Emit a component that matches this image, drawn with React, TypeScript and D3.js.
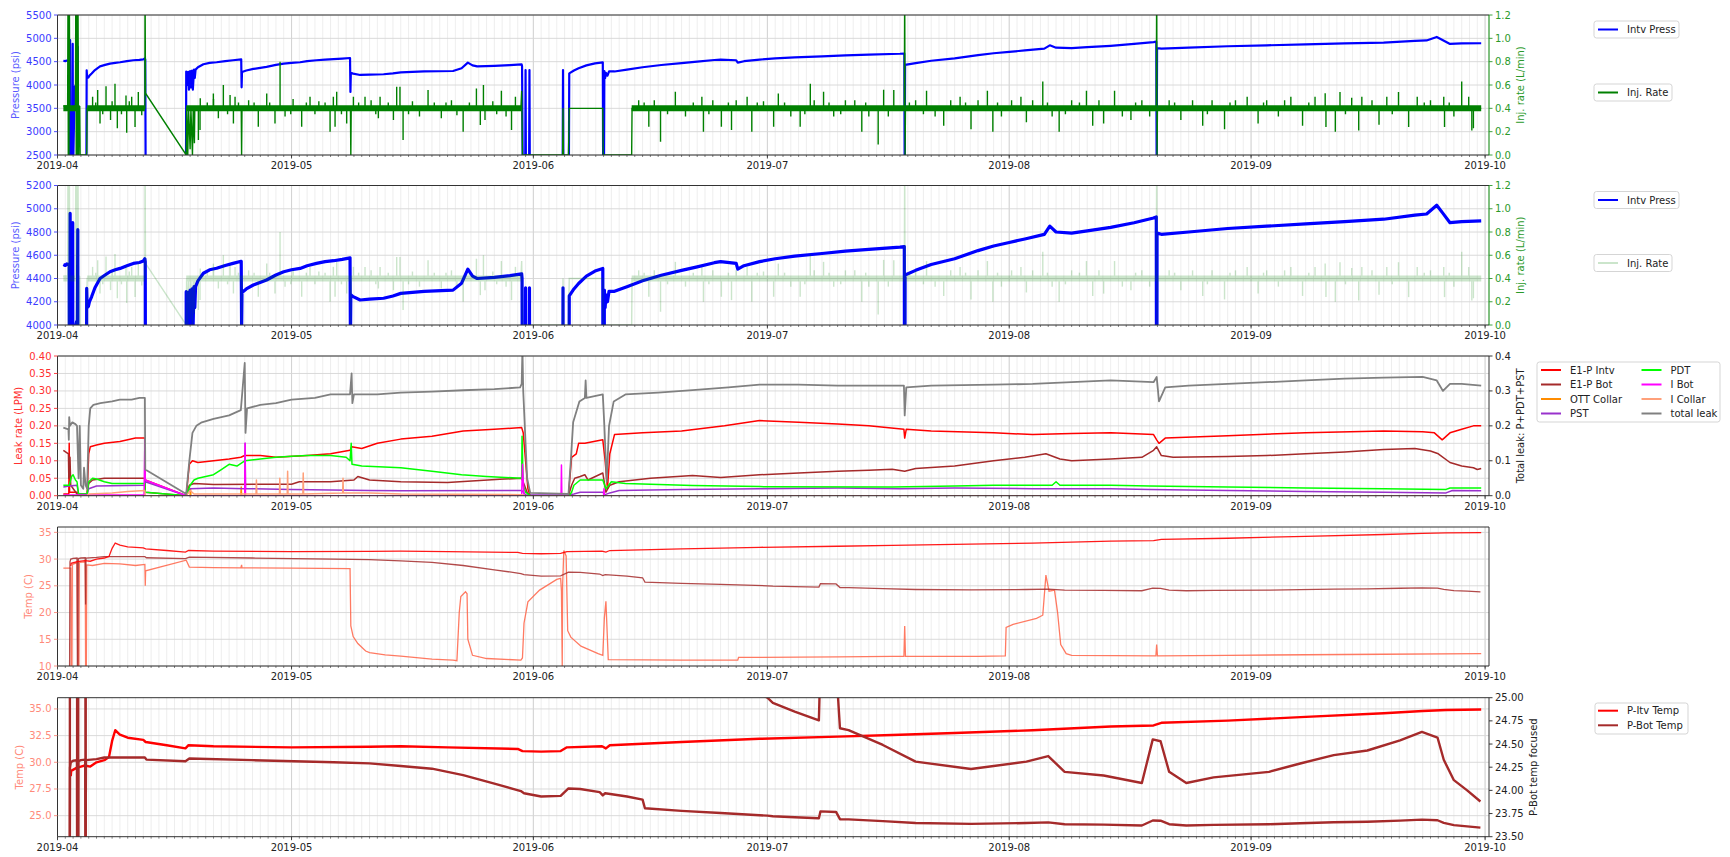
import React from "react";
import * as d3 from "d3";

type Pt = [number, number | null];

// ---------------- data (day offsets from 2019-04-01) ----------------
const intvPress: Pt[] = [
  [0.75, 4520], [1.0, 4512], [1.2, 4525], [1.5, 4518], [1.55, 2000], [1.62, 4960], [1.66, 2000], [1.9, 2000], [1.95, 4880], [1.98, 2000],
  [2.2, 3950], [2.45, 4030], [2.55, 4030], [2.6, 4820], [2.63, 2000], [3.7, 2000], [3.74, 4315], [3.8, 4150], [3.96, 4160], [4.1, 4200],
  [4.38, 4245], [4.8, 4320], [5.45, 4400], [6.1, 4430], [6.73, 4458], [7.4, 4475], [8.02, 4487], [8.9, 4510], [9.72, 4530], [10.5, 4538],
  [11.0, 4550], [11.2, 4570], [11.25, 4545], [11.3, 2000], [11.31, null],
  [16.47, 2000], [16.5, 4287], [16.6, 4000], [16.75, 4280], [16.85, 3900], [17.0, 4300], [17.1, 3950], [17.25, 4310], [17.35, 3900],
  [17.5, 4330], [17.6, 4150], [17.7, 4330], [18.0, 4380], [18.7, 4445], [19.5, 4475], [20.4, 4488], [21.5, 4512], [22.5, 4530],
  [23.55, 4548], [23.6, 3950], [23.65, 4280], [24.2, 4310], [25.1, 4344], [26.8, 4387], [28, 4430], [29, 4458], [30, 4475], [31.1, 4487],
  [32, 4510], [33.2, 4530], [34.3, 4545], [35.4, 4553], [36.5, 4565], [37.5, 4578], [37.55, 3850], [37.6, 4260], [37.9, 4244],
  [38.8, 4215], [40, 4222], [41.8, 4230], [43, 4250], [44, 4272], [47, 4290], [50.7, 4300], [51.8, 4360], [52.6, 4480], [53.2, 4420],
  [53.8, 4400], [56, 4410], [58, 4425], [59.5, 4440], [59.55, 4400], [59.65, 2000], [59.95, 2000], [60.0, 4320], [60.05, 2000],
  [60.45, 2000], [60.5, 4320], [60.55, 2000], [64.75, 2000], [64.8, 4320], [64.85, 2000], [65.55, 2000], [65.6, 4250], [66.2, 4310],
  [66.8, 4357], [67.8, 4420], [68.9, 4464], [69.9, 4486], [69.95, 2000], [70.05, 2000], [70.1, 4300], [70.2, 4150], [70.3, 4260],
  [70.5, 4200], [70.7, 4290], [71.4, 4290], [73, 4330], [75, 4380], [77.4, 4428], [80, 4470], [82, 4500], [84.2, 4536], [85, 4545],
  [87.0, 4530], [87.2, 4480], [88, 4510], [90, 4545], [92, 4570], [94.5, 4593], [98, 4615], [101, 4635], [104, 4650], [108, 4670],
  [108.55, 4675], [108.6, 2000], [108.65, 4430], [110, 4470], [112, 4520], [115, 4570], [118, 4640], [120, 4680], [122, 4710],
  [124, 4740], [126.5, 4780], [127.2, 4850], [128, 4800], [130, 4790], [132, 4810], [135, 4840], [138, 4880], [140.5, 4920],
  [140.85, 4930], [140.9, 2000], [140.95, 4790], [141.5, 4780], [145, 4800], [150, 4830], [155, 4850], [160, 4870], [165, 4890],
  [170, 4910], [174, 4945], [175.5, 4955], [176.8, 5030], [177.6, 4960], [178.5, 4880], [180, 4890], [182.5, 4895],
];

const injRate: Pt[] = [
  [0.75, 0.42], [1.3, 0.42], [1.35, 1.5], [1.38, 0], [1.42, 1.5], [1.47, 0], [1.52, 1.5], [1.56, 0.4], [2.3, 0.42], [2.35, 1.5],
  [2.4, 0], [2.5, 1.5], [2.55, 0], [2.62, 1.5], [2.7, 0], [2.75, 0.4], [2.85, 0.42], [2.9, 0.0], [3.7, 0.0], [3.75, 0.02], [3.8, 0.4],
  [11.2, 0.4], [11.22, 1.5], [11.25, 1.0], [11.28, 0.53], [16.5, 0], [16.55, 0.4], [16.7, 0.0], [16.8, 0.4], [17.0, 0.05], [17.1, 0.4],
  [17.3, 0.0], [17.4, 0.4], [17.55, 0.1], [17.6, 0.4], [23.55, 0.4], [23.6, 0.0], [23.65, 0.4], [37.55, 0.4], [37.6, 0], [37.65, 0.4],
  [59.4, 0.4], [59.5, 0.55], [59.6, 0], [64.75, 0], [64.8, 0.4], [64.85, 0], [65.5, 0], [65.6, 0.4], [69.9, 0.4], [69.95, 0],
  [73.6, 0], [73.65, 0.4], [108.55, 0.4], [108.6, 1.5], [108.65, 0], [108.7, 0.4], [140.85, 0.4], [140.9, 1.5], [140.95, 0],
  [141.0, 0.4], [182.5, 0.4],
];

const injBandLevel = 0.4;
const injBandSegments: [number, number][] = [
  [0.75, 2.85], [3.8, 11.2], [16.5, 59.5], [73.6, 108.6], [108.7, 140.9], [141.0, 182.5],
];

const injSpikes: [number, number][] = [
  [4.5, 0.5], [5.15, 0.557], [5.45, 0.27], [6.22, 0.59], [6.8, 0.3], [7.37, 0.61], [7.67, 0.23], [8.78, 0.51], [8.87, 0.19],
  [9.51, 0.5], [9.94, 0.24], [10.36, 0.54], [4.9, 0.45], [5.8, 0.35], [7.0, 0.46], [8.2, 0.35], [9.2, 0.46], [10.8, 0.34],
  [18.06, 0.129], [18.27, 0.214], [18.3, 0.486], [19.98, 0.528], [20.0, 0.48], [20.62, 0.314], [21.26, 0.6], [22.12, 0.514],
  [22.55, 0.271], [22.76, 0.5], [24.5, 0.47], [25.74, 0.243], [26.82, 0.528], [27.88, 0.271], [28.53, 0.8], [29.17, 0.329],
  [30.2, 0.48], [31.3, 0.243], [32.37, 0.5], [33.5, 0.46], [34.94, 0.2], [35.36, 0.5], [35.58, 0.243], [35.79, 0.543],
  [37.07, 0.271], [37.93, 0.5], [39.42, 0.5], [40.2, 0.47], [41.13, 0.314], [41.35, 0.5], [43.06, 0.3], [43.48, 0.585],
  [43.9, 0.585], [44.3, 0.129], [45.5, 0.46], [46.4, 0.33], [47.5, 0.557], [49.2, 0.314], [50.5, 0.47], [51.2, 0.34], [52.0, 0.2],
  [53.7, 0.57], [54.2, 0.257], [54.6, 0.6], [54.8, 0.3], [55.8, 0.46], [56.9, 0.55], [57.5, 0.33], [58.2, 0.214], [58.7, 0.5],
  [19.2, 0.45], [21.8, 0.35], [23.2, 0.45], [25.2, 0.45], [27.2, 0.45], [29.9, 0.35], [31.9, 0.45], [33.0, 0.35], [34.3, 0.45],
  [36.4, 0.35], [38.6, 0.45], [40.8, 0.35], [42.4, 0.45], [45.0, 0.35], [48.3, 0.45], [49.8, 0.45], [52.8, 0.45], [56.3, 0.35],
  [74.5, 0.47], [75.8, 0.243], [76.5, 0.47], [77.3, 0.114], [79.2, 0.543], [80.5, 0.33], [82.6, 0.5], [82.8, 0.2], [84, 0.47],
  [85.1, 0.243], [86.4, 0.214], [87, 0.47], [88.4, 0.5], [89.0, 0.2], [90.5, 0.46], [91.8, 0.243], [92.4, 0.528], [94, 0.33],
  [95.2, 0.243], [96.5, 0.61], [97, 0.47], [98.2, 0.543], [99.5, 0.33], [101, 0.47], [102.2, 0.47], [103.1, 0.2], [104, 0.33],
  [105.2, 0.091], [105.9, 0.56], [106.5, 0.33], [107.2, 0.557], [75.2, 0.45], [78.2, 0.35], [81.5, 0.45], [83.5, 0.35], [86.0, 0.45],
  [89.7, 0.45], [93.2, 0.45], [95.8, 0.35], [98.9, 0.45], [100.4, 0.35], [103.6, 0.45],
  [110, 0.47], [111.4, 0.55], [112.5, 0.33], [113.6, 0.25], [114.5, 0.47], [115.7, 0.5], [117.1, 0.22], [118, 0.47], [119.2, 0.55],
  [119.9, 0.2], [121, 0.33], [122.3, 0.47], [123.5, 0.5], [124.2, 0.28], [125, 0.47], [126.3, 0.63], [127.5, 0.33], [128.4, 0.2],
  [130, 0.47], [131.9, 0.55], [132.7, 0.25], [133.5, 0.47], [134.1, 0.27], [135.5, 0.55], [136.5, 0.33], [137.6, 0.3], [139, 0.47],
  [140, 0.33], [109.2, 0.45], [111.0, 0.35], [116.4, 0.45], [120.5, 0.45], [126.9, 0.45], [129.2, 0.35], [131.0, 0.45], [138.2, 0.45],
  [142.5, 0.47], [144.0, 0.3], [145.5, 0.47], [146.8, 0.25], [148, 0.47], [149.6, 0.22], [151, 0.47], [152.5, 0.5], [153.9, 0.27],
  [155, 0.47], [156.5, 0.33], [157.3, 0.47], [158.1, 0.5], [159.6, 0.25], [161.2, 0.5], [162.5, 0.53], [162.6, 0.24], [163.8, 0.2],
  [164.4, 0.54], [165.9, 0.49], [166.8, 0.21], [167.2, 0.5], [168.5, 0.47], [169.4, 0.26], [170.4, 0.5], [171.9, 0.54], [173.2, 0.24],
  [174.3, 0.5], [176, 0.47], [177.7, 0.5], [177.8, 0.24], [179, 0.33], [180.0, 0.63], [180.9, 0.5], [181.3, 0.21], [181.5, 0.23],
  [143.2, 0.45], [147.4, 0.35], [150.3, 0.45], [154.6, 0.45], [160.4, 0.45], [165.1, 0.35], [171.1, 0.35], [175.2, 0.45], [178.4, 0.45],
];

const leakIntv: Pt[] = [
  [0.75, 0.005], [1.45, 0.005], [1.5, 0.15], [1.55, 0.01], [2.5, 0.01], [2.7, 0.005], [3.8, 0.005], [4.0, 0.12], [4.2, 0.14], [5, 0.145],
  [6, 0.15], [8, 0.155], [10, 0.165], [11.2, 0.165], [11.25, 0.045], [16.5, 0.0], [16.9, 0.09], [17.3, 0.1], [18, 0.095], [20, 0.1],
  [22, 0.105], [23.5, 0.11], [24, 0.115], [26, 0.115], [28, 0.11], [32, 0.115], [35, 0.12], [37.5, 0.13], [37.7, 0.14], [39, 0.135],
  [41, 0.15], [44, 0.162], [48, 0.17], [52, 0.185], [56, 0.19], [59.5, 0.195], [59.7, 0.18], [60.3, 0.02], [60.6, 0.0], [65.5, 0.0],
  [65.9, 0.11], [66.5, 0.12], [66.8, 0.15], [67.6, 0.15], [69.9, 0.16], [70.2, 0.1], [70.5, 0.02], [70.8, 0.12], [71.4, 0.175],
  [75, 0.18], [80, 0.185], [85.5, 0.2], [90, 0.215], [95, 0.21], [100, 0.205], [104, 0.2], [108.5, 0.19], [108.6, 0.165],
  [108.8, 0.19], [112, 0.185], [120, 0.18], [125, 0.175], [130, 0.178], [135, 0.18], [140.5, 0.175], [140.9, 0.16], [141.2, 0.15],
  [142, 0.165], [150, 0.172], [160, 0.18], [170, 0.185], [175, 0.183], [176.5, 0.18], [177.5, 0.16], [178.5, 0.18], [180, 0.19],
  [181.5, 0.2], [182.5, 0.2],
];
const leakBot: Pt[] = [
  [0.75, 0.13], [1.4, 0.12], [1.45, 0.05], [1.6, 0.11], [1.7, 0.03], [2.5, 0.005], [3.8, 0.005], [4.0, 0.035], [4.5, 0.045], [6, 0.05],
  [11.2, 0.05], [11.25, 0.01], [16.5, 0.0], [16.9, 0.03], [17.5, 0.035], [20, 0.032], [30, 0.033], [31, 0.04], [35, 0.04], [38, 0.045],
  [38.5, 0.055], [40, 0.045], [44, 0.04], [50, 0.038], [56.7, 0.047], [59.5, 0.05], [60.2, 0.01], [60.6, 0.0], [65.5, 0.0], [65.9, 0.03],
  [66.3, 0.05], [67, 0.055], [67.6, 0.06], [68, 0.045], [69.9, 0.065], [70.3, 0.01], [70.8, 0.03], [72, 0.04], [76, 0.05], [81.4, 0.058],
  [85, 0.052], [90, 0.06], [95, 0.065], [100, 0.07], [104, 0.073], [107, 0.076], [108.6, 0.07], [110, 0.078], [115, 0.085], [120, 0.1],
  [124, 0.11], [126.7, 0.12], [128.5, 0.105], [130, 0.1], [135, 0.105], [139, 0.11], [140.5, 0.13], [140.9, 0.14], [141.5, 0.115],
  [143, 0.11], [150, 0.112], [155, 0.115], [160, 0.12], [165, 0.125], [170, 0.132], [174, 0.135], [176, 0.128], [177, 0.12],
  [178.5, 0.095], [180, 0.085], [181.5, 0.08], [182, 0.075], [182.5, 0.078],
];
const leakOttCollar: Pt[] = [
  [0.75, 0.0], [17, 0.0], [17.05, 0.02], [17.1, 0.0], [23.5, 0.0], [23.55, 0.025], [23.6, 0.0], [182.5, 0.0],
];
const leakPst: Pt[] = [
  [0.75, 0.025], [1.5, 0.028], [2.5, 0.03], [2.7, 0.005], [3.8, 0.005], [4.0, 0.02], [5, 0.028], [11.2, 0.03], [11.25, 0.04], [16.5, 0.0],
  [17, 0.02], [20, 0.022], [24, 0.02], [24.05, 0.15], [24.1, 0.02], [30, 0.018], [40, 0.015], [44, 0.014], [59.5, 0.015], [60, 0.003],
  [65.6, 0.002], [66.2, 0.005], [67, 0.01], [69.9, 0.01], [70.2, 0.003], [70.8, 0.008], [72, 0.015], [80, 0.018], [90, 0.02],
  [100, 0.022], [108, 0.02], [115, 0.022], [125, 0.02], [135, 0.02], [140, 0.018], [150, 0.015], [160, 0.012], [170, 0.01], [178, 0.008],
  [178.8, 0.015], [182.5, 0.014],
];
const leakPdt: Pt[] = [
  [0.75, 0.03], [1.5, 0.03], [1.8, 0.055], [2.0, 0.06], [2.3, 0.045], [2.5, 0.04], [2.7, 0.005], [3.8, 0.005], [4.0, 0.04], [4.5, 0.05],
  [5, 0.048], [6, 0.04], [7, 0.035], [11.2, 0.035], [11.25, 0.01], [16.5, 0.0], [17, 0.03], [17.5, 0.045], [18, 0.05], [20, 0.06],
  [21, 0.075], [22, 0.09], [23, 0.085], [24, 0.1], [26, 0.105], [28, 0.11], [30, 0.113], [32, 0.115], [35, 0.115], [37, 0.11],
  [37.5, 0.1], [37.65, 0.15], [37.75, 0.09], [39, 0.085], [44, 0.08], [48, 0.07], [51.8, 0.06], [55, 0.055], [59.5, 0.05],
  [59.55, 0.17], [59.7, 0.03], [60, 0.01], [60.6, 0.0], [65.6, 0.0], [65.9, 0.01], [66.2, 0.03], [67, 0.045], [69.9, 0.045],
  [70.3, 0.02], [71, 0.04], [72.8, 0.035], [81.4, 0.029], [90, 0.026], [107, 0.025], [115, 0.028], [120, 0.03], [127.5, 0.03],
  [128, 0.04], [128.5, 0.03], [135, 0.03], [140, 0.028], [150, 0.025], [160, 0.022], [170, 0.02], [178, 0.018], [178.5, 0.022],
  [182.5, 0.022],
];
const leakIBot: Pt[] = [
  [0.75, 0.002], [11.1, 0.002], [11.2, 0.16], [11.25, 0.045], [16.5, 0.0], [24, 0.0], [24.05, 0.15], [24.1, 0.0], [59.5, 0.0],
  [59.6, 0.09], [59.8, 0.0], [64.55, 0.0], [64.6, 0.088], [64.65, 0.0], [70, 0.0], [70.05, 0.02], [70.1, 0.0], [182.5, 0.0],
];
const leakICollar: Pt[] = [
  [0.75, 0.0], [3.8, 0.0], [4.0, 0.005], [7, 0.008], [9, 0.012], [11.2, 0.015], [11.25, 0.0], [16.5, 0.0], [17, 0.015], [17.5, 0.005],
  [25.45, 0.005], [25.5, 0.045], [25.55, 0.005], [28.45, 0.005], [28.5, 0.05], [28.55, 0.005], [29.45, 0.005], [29.5, 0.07],
  [29.55, 0.005], [31.45, 0.005], [31.5, 0.065], [31.55, 0.005], [36.55, 0.008], [36.6, 0.05], [36.65, 0.008], [40, 0.008],
  [44, 0.005], [59.5, 0.003], [60, 0.0], [182.5, 0.0],
];
const totalLeak: Pt[] = [
  [0.75, 0.195], [1.4, 0.19], [1.45, 0.16], [1.5, 0.225], [1.6, 0.2], [1.9, 0.21], [2.3, 0.205], [2.5, 0.2], [2.7, 0.05], [2.85, 0.2],
  [3.0, 0.03], [3.3, 0.02], [3.4, 0.08], [3.6, 0.03], [3.8, 0.02], [4.0, 0.2], [4.2, 0.25], [4.6, 0.26], [5.5, 0.265], [7, 0.27],
  [8, 0.275], [9.5, 0.275], [10.5, 0.28], [11.2, 0.28], [11.25, 0.075], [16.5, 0.005], [16.9, 0.1], [17.3, 0.18], [17.8, 0.2],
  [18.5, 0.21], [20, 0.22], [22, 0.23], [23.5, 0.245], [24.0, 0.38], [24.1, 0.18], [24.3, 0.25], [26, 0.26], [28, 0.265], [30, 0.275],
  [33, 0.28], [35, 0.29], [37.5, 0.29], [37.7, 0.35], [37.8, 0.265], [38, 0.29], [41, 0.29], [44, 0.295], [48, 0.298], [52, 0.302],
  [56, 0.305], [59.3, 0.31], [59.5, 0.32], [59.6, 0.42], [59.7, 0.3], [60.2, 0.05], [60.6, 0.008], [65.5, 0.005], [65.8, 0.1],
  [66.1, 0.21], [66.9, 0.27], [67.6, 0.28], [67.7, 0.33], [67.8, 0.28], [69.9, 0.29], [70.1, 0.2], [70.4, 0.04], [70.7, 0.2],
  [71.3, 0.27], [72.8, 0.29], [77, 0.295], [81.4, 0.302], [86, 0.31], [90, 0.318], [95, 0.318], [100, 0.315], [104, 0.315],
  [108.5, 0.315], [108.6, 0.23], [108.8, 0.31], [112, 0.315], [120, 0.318], [125, 0.32], [130, 0.325], [135, 0.33], [140.5, 0.325],
  [140.9, 0.34], [141.2, 0.27], [142, 0.31], [145, 0.315], [150, 0.32], [155, 0.325], [160, 0.33], [165, 0.335], [170, 0.338],
  [175, 0.34], [176.8, 0.33], [177.6, 0.3], [178.5, 0.32], [180, 0.32], [182.5, 0.315],
];

const itvTemp: Pt[] = [
  [1.7, 28.7], [1.75, 29.2], [2.5, 29.5], [3, 29.6], [3.5, 29.7], [4.2, 29.6], [5, 30], [6, 30.2], [6.6, 30.5], [7.0, 32], [7.4, 33],
  [8, 32.6], [9, 32.3], [11, 32.1], [11.3, 31.9], [14, 31.6], [16.4, 31.3], [16.8, 31.6], [20, 31.5], [30, 31.4], [40, 31.45],
  [44, 31.5], [50, 31.4], [59, 31.25], [59.6, 31.05], [62, 31.0], [64.5, 31.05], [65.3, 31.4], [69.8, 31.5], [70.3, 31.3], [70.8, 31.6],
  [80, 31.9], [90, 32.2], [100, 32.4], [107, 32.55], [115, 32.75], [125, 33.0], [135, 33.35], [140.5, 33.45], [141.5, 33.7],
  [150, 33.9], [160, 34.25], [170, 34.6], [175, 34.8], [178, 34.9], [182.5, 34.95],
];
const pBotTemp: Pt[] = [
  [1.55, 10], [1.6, 29.5], [1.7, 30.0], [2.0, 30.15], [2.5, 30.2], [2.55, 10], [2.62, 10], [2.67, 30.1], [3.0, 30.2], [3.55, 30.25],
  [3.6, 21.5], [3.65, 30.2], [5, 30.3], [6, 30.45], [11.2, 30.45], [11.4, 30.25], [16.4, 30.1], [16.9, 30.35], [25, 30.2], [35.4, 30.0],
  [40, 29.9], [44, 29.65], [48, 29.4], [52, 28.8], [56, 28.0], [59.4, 27.3], [59.8, 27.1], [62, 26.8], [64.5, 26.85], [65.5, 27.55],
  [67, 27.5], [69.5, 27.2], [69.9, 26.9], [70.2, 27.1], [73, 26.8], [75, 26.5], [75.3, 25.7], [80, 25.45], [85, 25.25], [91, 25.0],
  [91.7, 24.945], [94.5, 24.85], [97.6, 24.755], [97.8, 25.4], [99.8, 25.35], [100.3, 24.67], [101.4, 24.65], [105.8, 24.49],
  [110.0, 24.31], [117.1, 24.23], [124.2, 24.31], [127.0, 24.37], [129.1, 24.2], [134.1, 24.16], [139.0, 24.08], [140.4, 24.55],
  [141.4, 24.53], [142.5, 24.2], [144.7, 24.08], [148.2, 24.14], [155.3, 24.2], [159.3, 24.29], [163.6, 24.38], [167.9, 24.43],
  [172.1, 24.54], [174.9, 24.63], [176.9, 24.57], [177.7, 24.33], [179.0, 24.11], [180.7, 24.0], [182.4, 23.88],
];
const pTopTemp: Pt[] = [
  [0.75, 28.3], [1.7, 28.3], [1.75, 10], [1.85, 10], [1.9, 29.0], [2.5, 29.3], [2.6, 10], [2.75, 10], [2.8, 29.4], [3.55, 29.5],
  [3.6, 10], [3.7, 10], [3.75, 28.9], [4.5, 28.8], [6, 29.2], [8, 29.1], [10, 28.8], [11.2, 29.0], [11.25, 25.0], [11.3, 27.8],
  [16.5, 29.8], [16.9, 28.5], [20, 28.4], [23.5, 28.35], [23.6, 28.9], [23.65, 28.35], [30, 28.3], [37.5, 28.2], [37.6, 17.5],
  [37.9, 15.5], [38.5, 14.2], [39.5, 12.8], [40, 12.5], [42, 12.1], [44, 11.85], [48, 11.3], [50.7, 11.1], [51.2, 11.0], [51.5, 20],
  [51.7, 23], [52.3, 23.9], [52.5, 23.5], [52.6, 15], [53.2, 12], [55, 11.4], [59.4, 11.1], [59.6, 11.5], [59.8, 18], [60.3, 22],
  [61.8, 24.2], [64, 26.2], [64.5, 26.4], [64.6, 24], [64.7, 10], [64.75, 25], [64.9, 31.6], [65.2, 30.6], [65.4, 16.6], [65.8, 15.4],
  [67.1, 13.7], [69.3, 12.3], [69.9, 12.0], [70.1, 19], [70.3, 22.1], [70.6, 11.2], [80, 11.1], [87.2, 11.1], [87.3, 11.6],
  [100, 11.7], [107, 11.8], [108.5, 11.8], [108.6, 17.5], [108.7, 11.8], [118, 11.8], [121.5, 11.9], [121.6, 17.2], [122.5, 17.8],
  [125.5, 18.9], [126.3, 19.5], [126.7, 27], [127.1, 24], [127.8, 24.2], [128.2, 20], [128.6, 14], [129.3, 12.3], [130, 12.0],
  [140.8, 11.9], [140.9, 14], [141, 11.9], [150, 12.0], [160, 12.1], [170, 12.2], [182.5, 12.3],
];

// tick values
const pressTicks1 = [2500, 3000, 3500, 4000, 4500, 5000, 5500];
const pressTicks2 = [4000, 4200, 4400, 4600, 4800, 5000, 5200];
const injTicks = [0, 0.2, 0.4, 0.6, 0.8, 1.0, 1.2];
const leakTicks = [0, 0.05, 0.1, 0.15, 0.2, 0.25, 0.3, 0.35, 0.4];
const totalTicks = [0, 0.1, 0.2, 0.3, 0.4];
const tempTicks4 = [10, 15, 20, 25, 30, 35];
const tempTicks5 = [25, 27.5, 30, 32.5, 35];
const focusTicks = [23.5, 23.75, 24, 24.25, 24.5, 24.75, 25];

// ---------------- layout ----------------
const W = 1730, H = 857;
const X0 = 57.5, X1 = 1489;
const START = Date.UTC(2019, 3, 1);
const END_DAY = 183.5;
const dayToDate = (d: number) => new Date(START + d * 86400000);
const x = d3.scaleUtc().domain([dayToDate(0), dayToDate(END_DAY)]).range([X0, X1]);
const FONT = "'DejaVu Sans', sans-serif";
const monthTicks = d3.utcMonth.range(dayToDate(0), dayToDate(END_DAY));
const dayTicks = d3.utcDay.range(dayToDate(0), dayToDate(END_DAY));
const fmtMonth = d3.utcFormat("%Y-%m");

const PANELS = [
  { top: 15, bottom: 155 },
  { top: 185.5, bottom: 325 },
  { top: 356, bottom: 495.7 },
  { top: 527, bottom: 666 },
  { top: 697.7, bottom: 836.7 },
];

const y1L = d3.scaleLinear().domain([2500, 5500]).range([PANELS[0].bottom, PANELS[0].top]);
const y1R = d3.scaleLinear().domain([0, 1.2]).range([PANELS[0].bottom, PANELS[0].top]);
const y2L = d3.scaleLinear().domain([4000, 5200]).range([PANELS[1].bottom, PANELS[1].top]);
const y2R = d3.scaleLinear().domain([0, 1.2]).range([PANELS[1].bottom, PANELS[1].top]);
const y3L = d3.scaleLinear().domain([0, 0.4]).range([PANELS[2].bottom, PANELS[2].top]);
const y3R = d3.scaleLinear().domain([0, 0.4]).range([PANELS[2].bottom, PANELS[2].top]);
const y4L = d3.scaleLinear().domain([10, 36.0]).range([PANELS[3].bottom, PANELS[3].top]);
const y5L = d3.scaleLinear().domain([23.03, 36.05]).range([PANELS[4].bottom, PANELS[4].top]);
const y5R = d3.scaleLinear().domain([23.5, 25]).range([PANELS[4].bottom, PANELS[4].top]);

function pathOf(data: Pt[], y: d3.ScaleLinear<number, number>) {
  return (
    d3
      .line<Pt>()
      .defined((d) => d[1] != null)
      .x((d) => x(dayToDate(d[0])))
      .y((d) => y(d[1] as number))(data) || ""
  );
}

const BLUE = "#0000ff";
const GREEN = "#008000";
const LEAK_SERIES = [
  { name: "E1-P Intv", color: "#ff0000", data: leakIntv },
  { name: "E1-P Bot", color: "#a52a2a", data: leakBot },
  { name: "OTT Collar", color: "#ff8c00", data: leakOttCollar },
  { name: "PST", color: "#9932cc", data: leakPst },
  { name: "PDT", color: "#00ff00", data: leakPdt },
  { name: "I Bot", color: "#ff00ff", data: leakIBot },
  { name: "I Collar", color: "#ffa07a", data: leakICollar },
];

type AxisSpec = {
  scale: d3.ScaleLinear<number, number>;
  ticks: number[];
  fmt: (v: number) => string;
  color: string;
  spine?: string;
  label: string;
  labelColor: string;
  labelX: number;
};

function Panel({
  idx,
  left,
  right,
  children,
}: {
  idx: number;
  left: AxisSpec;
  right?: AxisSpec;
  children: React.ReactNode;
}) {
  const { top, bottom } = PANELS[idx];
  const mid = (top + bottom) / 2;
  const clipId = `clip${idx}`;
  return (
    <g>
      <defs>
        <clipPath id={clipId}>
          <rect x={X0} y={top} width={X1 - X0} height={bottom - top} />
        </clipPath>
      </defs>
      {dayTicks.map((d, i) => (
        <line key={"mg" + i} x1={x(d)} x2={x(d)} y1={top} y2={bottom} stroke="#e3e3e3" strokeWidth={0.6} />
      ))}
      {monthTicks.map((d, i) => (
        <line key={"Mg" + i} x1={x(d)} x2={x(d)} y1={top} y2={bottom} stroke="#cfcfcf" strokeWidth={0.9} />
      ))}
      {left.ticks.map((t, i) => (
        <line key={"hg" + i} x1={X0} x2={X1} y1={left.scale(t)} y2={left.scale(t)} stroke="#d6d6d6" strokeWidth={0.9} />
      ))}
      <g clipPath={`url(#${clipId})`}>{children}</g>
      <line x1={X0} x2={X1} y1={top} y2={top} stroke="#333" strokeWidth={1} />
      <line x1={X0} x2={X1} y1={bottom} y2={bottom} stroke="#333" strokeWidth={1} />
      <line x1={X0} x2={X0} y1={top} y2={bottom} stroke={left.spine || "#333"} strokeWidth={1} />
      <line x1={X1} x2={X1} y1={top} y2={bottom} stroke={right?.spine || "#333"} strokeWidth={1} />
      {dayTicks.map((d, i) => (
        <line key={"mt" + i} x1={x(d)} x2={x(d)} y1={bottom} y2={bottom + 2} stroke="#333" strokeWidth={0.6} />
      ))}
      {monthTicks.map((d, i) => (
        <g key={"Mt" + i}>
          <line x1={x(d)} x2={x(d)} y1={bottom} y2={bottom + 3.5} stroke="#333" strokeWidth={0.9} />
          <text x={x(d)} y={bottom + 14} textAnchor="middle" fontSize={10} fontFamily={FONT} fill="#222">
            {fmtMonth(d)}
          </text>
        </g>
      ))}
      {left.ticks.map((t, i) => (
        <g key={"lt" + i}>
          <line x1={X0 - 3.5} x2={X0} y1={left.scale(t)} y2={left.scale(t)} stroke={left.color} strokeWidth={0.9} />
          <text x={X0 - 6} y={left.scale(t)} dy="0.35em" textAnchor="end" fontSize={10} fontFamily={FONT} fill={left.color}>
            {left.fmt(t)}
          </text>
        </g>
      ))}
      <text
        transform={`translate(${left.labelX},${mid}) rotate(-90)`}
        textAnchor="middle"
        dy="0.35em"
        fontSize={10}
        fontFamily={FONT}
        fill={left.labelColor}
      >
        {left.label}
      </text>
      {right && (
        <g>
          {right.ticks.map((t, i) => (
            <g key={"rt" + i}>
              <line x1={X1} x2={X1 + 3.5} y1={right.scale(t)} y2={right.scale(t)} stroke={right.color} strokeWidth={0.9} />
              <text x={X1 + 6} y={right.scale(t)} dy="0.35em" textAnchor="start" fontSize={10} fontFamily={FONT} fill={right.color}>
                {right.fmt(t)}
              </text>
            </g>
          ))}
          <text
            transform={`translate(${right.labelX},${mid}) rotate(-90)`}
            textAnchor="middle"
            dy="0.35em"
            fontSize={10}
            fontFamily={FONT}
            fill={right.labelColor}
          >
            {right.label}
          </text>
        </g>
      )}
    </g>
  );
}

function LegendBox({
  x0,
  y0,
  w,
  h,
  items,
}: {
  x0: number;
  y0: number;
  w: number;
  h: number;
  items: { label: string; color: string; lx: number; ly: number; opacity?: number }[];
}) {
  return (
    <g>
      <rect x={x0} y={y0} width={w} height={h} rx={2.5} fill="#fff" stroke="#d0d0d0" strokeWidth={0.9} />
      {items.map((it, i) => (
        <g key={i}>
          <line x1={it.lx} x2={it.lx + 20} y1={it.ly} y2={it.ly} stroke={it.color} strokeWidth={2} opacity={it.opacity ?? 1} />
          <text x={it.lx + 29} y={it.ly} dy="0.35em" fontSize={10} fontFamily={FONT} fill="#222">
            {it.label}
          </text>
        </g>
      ))}
    </g>
  );
}

const f0 = (v: number) => d3.format("d")(v);
const f1 = (v: number) => d3.format(".1f")(v);
const f2 = (v: number) => d3.format(".2f")(v);

function InjSeries({ y, opacity }: { y: d3.ScaleLinear<number, number>; opacity: number }) {
  return (
    <g opacity={opacity}>
      <path d={pathOf(injRate, y)} fill="none" stroke={GREEN} strokeWidth={1.4} />
      {injBandSegments.map((s, i) => (
        <path
          key={"b" + i}
          d={pathOf([[s[0], injBandLevel], [s[1], injBandLevel]], y)}
          fill="none"
          stroke={GREEN}
          strokeWidth={6}
        />
      ))}
      {injSpikes.map((s, i) => (
        <path
          key={"s" + i}
          d={pathOf([[s[0], injBandLevel], [s[0], s[1]]], y)}
          fill="none"
          stroke={GREEN}
          strokeWidth={1.4}
        />
      ))}
    </g>
  );
}

export default function App() {
  const injAxis = (scale: d3.ScaleLinear<number, number>): AxisSpec => ({
    scale,
    ticks: injTicks,
    fmt: f1,
    color: "#2a9a2a",
    spine: GREEN,
    label: "Inj. rate (L/min)",
    labelColor: "#2a9a2a",
    labelX: 1520.5,
  });
  return (
    <svg
      width={W}
      height={H}
      viewBox={`0 0 ${W} ${H}`}
      style={{ position: "absolute", left: 0, top: 0, background: "#fff", display: "block" }}
    >
      <rect x={0} y={0} width={W} height={H} fill="#fff" />

      <Panel
        idx={0}
        left={{ scale: y1L, ticks: pressTicks1, fmt: f0, color: "#3b3bff", label: "Pressure (psi)", labelColor: "#5a5aff", labelX: 15 }}
        right={injAxis(y1R)}
      >
        <path d={pathOf(intvPress, y1L)} fill="none" stroke={BLUE} strokeWidth={2.2} strokeLinejoin="round" />
        <InjSeries y={y1R} opacity={1} />
      </Panel>
      <LegendBox x0={1594} y0={21} w={85} h={17} items={[{ label: "Intv Press", color: BLUE, lx: 1598, ly: 29.5 }]} />
      <LegendBox x0={1594} y0={84} w={78} h={17} items={[{ label: "Inj. Rate", color: GREEN, lx: 1598, ly: 92.5 }]} />

      <Panel
        idx={1}
        left={{ scale: y2L, ticks: pressTicks2, fmt: f0, color: "#3b3bff", label: "Pressure (psi)", labelColor: "#5a5aff", labelX: 15 }}
        right={injAxis(y2R)}
      >
        <path d={pathOf(intvPress, y2L)} fill="none" stroke={BLUE} strokeWidth={3.2} strokeLinejoin="round" />
        <InjSeries y={y2R} opacity={0.2} />
      </Panel>
      <LegendBox x0={1594} y0={191.5} w={85} h={17} items={[{ label: "Intv Press", color: BLUE, lx: 1598, ly: 200 }]} />
      <LegendBox
        x0={1594}
        y0={254.5}
        w={78}
        h={17}
        items={[{ label: "Inj. Rate", color: GREEN, lx: 1598, ly: 263, opacity: 0.2 }]}
      />

      <Panel
        idx={2}
        left={{ scale: y3L, ticks: leakTicks, fmt: f2, color: "#ff3030", label: "Leak rate (LPM)", labelColor: "#ff3030", labelX: 18 }}
        right={{
          scale: y3R,
          ticks: totalTicks,
          fmt: f1,
          color: "#222",
          label: "Total leak: P+PDT+PST",
          labelColor: "#222",
          labelX: 1520,
        }}
      >
        {LEAK_SERIES.map((s) => (
          <path key={s.name} d={pathOf(s.data, y3L)} fill="none" stroke={s.color} strokeWidth={1.5} strokeLinejoin="round" />
        ))}
        <path d={pathOf(totalLeak, y3R)} fill="none" stroke="#808080" strokeWidth={1.8} strokeLinejoin="round" />
      </Panel>
      <LegendBox
        x0={1537}
        y0={362}
        w={183}
        h={60}
        items={[
          ...LEAK_SERIES.slice(0, 4).map((s, i) => ({ label: s.name, color: s.color, lx: 1541, ly: 370 + i * 14.5 })),
          ...LEAK_SERIES.slice(4).map((s, i) => ({ label: s.name, color: s.color, lx: 1641.5, ly: 370 + i * 14.5 })),
          { label: "total leak", color: "#808080", lx: 1641.5, ly: 370 + 3 * 14.5 },
        ]}
      />

      <Panel
        idx={3}
        left={{ scale: y4L, ticks: tempTicks4, fmt: f0, color: "#ff8a7a", label: "Temp (C)", labelColor: "#ff8a7a", labelX: 28 }}
      >
        <path d={pathOf(pTopTemp, y4L)} fill="none" stroke="#ff6347" strokeOpacity={0.85} strokeWidth={1.3} />
        <path d={pathOf(pBotTemp, y4L)} fill="none" stroke="#a52a2a" strokeOpacity={0.85} strokeWidth={1.3} />
        <path d={pathOf(itvTemp, y4L)} fill="none" stroke="#ff0000" strokeOpacity={0.9} strokeWidth={1.3} />
      </Panel>

      <Panel
        idx={4}
        left={{ scale: y5L, ticks: tempTicks5, fmt: f1, color: "#ff8a7a", label: "Temp (C)", labelColor: "#ff8a7a", labelX: 19 }}
        right={{
          scale: y5R,
          ticks: focusTicks,
          fmt: f2,
          color: "#222",
          label: "P-Bot temp focused",
          labelColor: "#222",
          labelX: 1533,
        }}
      >
        <path d={pathOf(itvTemp, y5L)} fill="none" stroke="#ff0000" strokeWidth={2.4} strokeLinejoin="round" />
        <path d={pathOf(pBotTemp, y5L)} fill="none" stroke="#a52a2a" strokeWidth={2.4} strokeLinejoin="round" />
        <path d={pathOf(pBotTemp, y5R)} fill="none" stroke="#a52a2a" strokeWidth={2.4} strokeLinejoin="round" />
      </Panel>
      <LegendBox
        x0={1595}
        y0={703}
        w={93}
        h={31}
        items={[
          { label: "P-Itv Temp", color: "#ff0000", lx: 1598, ly: 710.7 },
          { label: "P-Bot Temp", color: "#a52a2a", lx: 1598, ly: 725.3 },
        ]}
      />
    </svg>
  );
}
